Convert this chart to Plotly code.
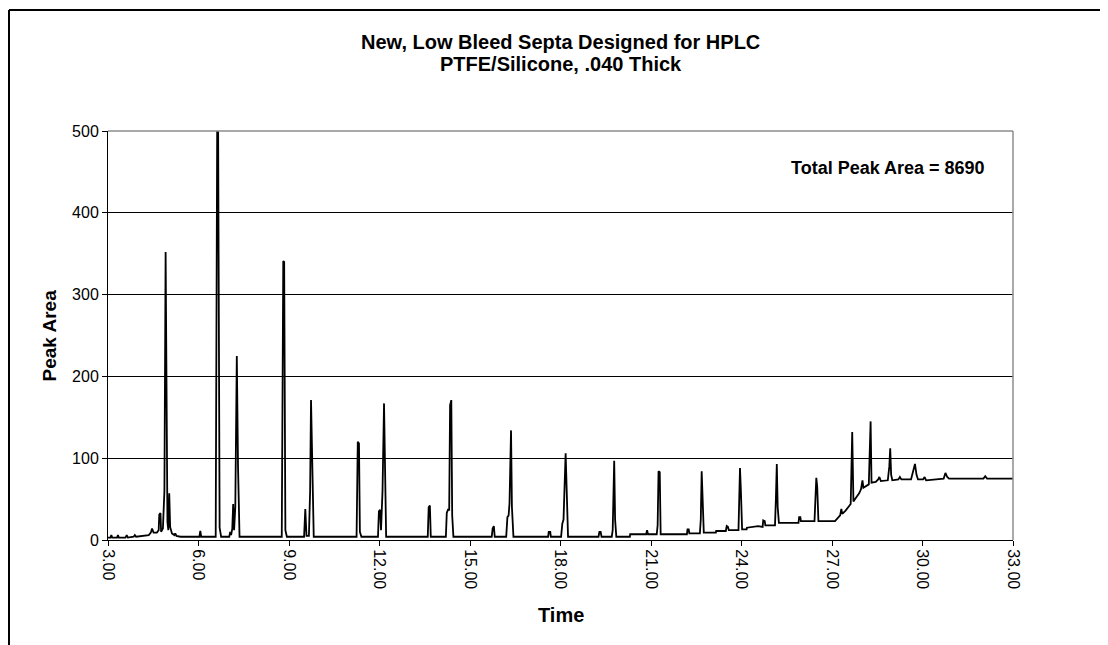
import plotly.graph_objects as go

# chromatogram, split in three runs
time_early = [
    3.00, 3.08, 3.11, 3.14, 3.30, 3.33, 3.36, 3.58, 3.62, 3.66, 3.85, 3.89,
    3.93, 4.15, 4.35, 4.42, 4.46, 4.51, 4.62, 4.68, 4.70, 4.74, 4.76, 4.82,
    4.87, 4.91, 4.94, 4.97, 5.00, 5.03, 5.06, 5.12, 5.20, 5.23, 5.27, 5.40,
    6.03, 6.06, 6.09, 6.57, 6.62, 6.65, 6.70, 6.75, 7.02, 7.05, 7.08, 7.12,
    7.15, 7.18, 7.22, 7.27, 7.31, 7.36, 8.76, 8.81, 8.84, 8.88, 8.93, 9.50,
    9.54, 9.58, 9.66, 9.70, 9.73, 9.78, 9.82, 11.24, 11.28, 11.32, 11.35, 11.40,
]
area_early = [
    3, 3, 6, 3, 3, 6, 3, 3, 6, 3, 4, 6,
    4, 5, 6, 9, 14, 9, 9, 12, 31, 33, 10, 14,
    60, 352, 150, 22, 12, 57, 16, 8, 6, 8, 5, 4,
    4, 11, 4, 4, 510, 510, 15, 4, 4, 10, 6, 14,
    44, 12, 40, 225, 90, 4, 4, 341, 340, 12, 4, 4,
    38, 5, 5, 60, 171, 55, 4, 4, 120, 118, 10, 4,
]

time_mid = [
    11.95, 11.98, 12.02, 12.05, 12.10, 12.15, 12.18, 12.22, 13.60, 13.63,
    13.67, 13.70, 14.20, 14.23, 14.27, 14.31, 14.34, 14.38, 14.41, 14.45,
    15.72, 15.75, 15.79, 15.82, 16.20, 16.24, 16.28, 16.31, 16.36, 16.39,
    16.44, 17.59, 17.61, 17.66, 17.68, 18.02, 18.06, 18.10, 18.17, 18.21,
    18.25, 19.26, 19.29, 19.33, 19.36, 19.70, 19.73, 19.75, 19.78, 19.81,
    19.85, 20.30, 20.31, 20.84, 20.87, 20.90, 21.19, 21.22, 21.25, 21.29,
    21.32, 22.19, 22.21, 22.25, 22.27, 22.62, 22.65, 22.68, 22.71, 22.75,
    23.15, 23.16, 23.48, 23.51, 23.55, 23.58, 23.90, 23.93, 23.95, 23.98,
    24.02, 24.17, 24.18, 24.55, 24.70, 24.72, 24.77, 24.79, 25.11, 25.14,
    25.17, 25.20, 25.24, 25.89, 25.91, 25.95, 25.97, 26.42, 26.45, 26.48,
    26.51, 26.55, 27.10,
]
area_mid = [
    4, 35, 37, 12, 60, 167, 100, 4, 4, 40,
    42, 4, 4, 33, 37, 37, 165, 171, 30, 4,
    4, 14, 17, 4, 4, 28, 30, 45, 134, 40,
    4, 4, 10, 10, 4, 4, 20, 25, 106, 35,
    4, 4, 10, 10, 4, 4, 12, 45, 97, 25,
    4, 4, 7, 7, 12, 7, 7, 18, 84, 83,
    7, 7, 13, 13, 8, 8, 25, 84, 40, 9,
    9, 11, 11, 17, 16, 12, 12, 45, 88, 60,
    13, 13, 15, 17, 16, 24, 23, 18, 18, 50,
    93, 40, 21, 21, 28, 28, 23, 23, 50, 76,
    65, 23, 23,
]

time_late = [
    27.18, 27.27, 27.31, 27.34, 27.45, 27.55, 27.62, 27.67, 27.71, 27.80,
    27.90, 27.96, 28.01, 28.04, 28.12, 28.22, 28.28, 28.31, 28.45, 28.53,
    28.57, 28.62, 28.85, 28.90, 28.93, 28.96, 29.00, 29.20, 29.25, 29.30,
    29.62, 29.70, 29.75, 29.80, 29.85, 30.02, 30.07, 30.12, 30.40, 30.70,
    30.76, 30.82, 30.88, 32.02, 32.08, 32.14, 33.00,
]
area_late = [
    26, 30, 38, 32, 36, 40, 44, 132, 47, 52,
    57, 62, 73, 64, 66, 68, 145, 70, 71, 74,
    77, 72, 73, 90, 112, 80, 73, 74, 77, 74,
    74, 85, 93, 80, 74, 74, 77, 73, 74, 75,
    82, 77, 75, 75, 78, 75, 75,
]

x_ticks = [3, 6, 9, 12, 15, 18, 21, 24, 27, 30, 33]
x_tick_labels = ['3.00', '6.00', '9.00', '12.00', '15.00', '18.00',
                 '21.00', '24.00', '27.00', '30.00', '33.00']
y_ticks = [0, 100, 200, 300, 400, 500]

title_lines = ['New, Low Bleed Septa Designed for HPLC', 'PTFE/Silicone, .040 Thick']
total_area = 8690

times = time_early + time_mid + time_late
areas = area_early + area_mid + area_late

FONT = 'Arial, Liberation Sans, sans-serif'

fig = go.Figure()

fig.add_trace(
    go.Scatter(
        x=times,
        y=areas,
        mode='lines',
        line=dict(color='#000000', width=1.8),
        showlegend=False,
        hoverinfo='x+y'
    )
)

# page has an 8px body margin, so the figure is 8px smaller than the window
fig.update_layout(
    width=1100,
    height=637,
    margin=dict(l=100, r=95, t=123, b=105),
    paper_bgcolor='#FFFFFF',
    plot_bgcolor='#FFFFFF',
    font=dict(family=FONT, size=16, color='#000000'),
    showlegend=False,
    xaxis=dict(
        range=[3, 33],
        tickmode='array',
        tickvals=x_ticks,
        ticktext=x_tick_labels,
        tickangle=90,
        ticks='outside',
        ticklen=5,
        tickcolor='#000000',
        showline=True,
        linecolor='#000000',
        linewidth=1,
        showgrid=False,
        zeroline=False,
        tickfont=dict(size=16)
    ),
    yaxis=dict(
        range=[0, 500],
        tickmode='array',
        tickvals=y_ticks,
        ticks='outside',
        ticklen=5,
        tickcolor='#000000',
        showline=True,
        linecolor='#000000',
        linewidth=1,
        showgrid=True,
        gridcolor='#000000',
        gridwidth=1,
        zeroline=False,
        tickfont=dict(size=16)
    )
)

# plot box: grey on top and right, outer chart frame cut by the page edge
fig.add_shape(type='line', xref='paper', yref='paper', x0=0, x1=1, y0=1, y1=1,
              line=dict(color='#8C8C8C', width=1.5), layer='above')
fig.add_shape(type='line', xref='paper', yref='paper', x0=1, x1=1, y0=0, y1=1,
              line=dict(color='#8C8C8C', width=1.5), layer='above')
fig.add_shape(type='line', xref='paper', yref='paper', x0=-0.1094, x1=1.2, y0=1.2958, y1=1.2958,
              line=dict(color='#000000', width=2))
fig.add_shape(type='line', xref='paper', yref='paper', x0=-0.1094, x1=-0.1094, y0=1.2958, y1=-0.3,
              line=dict(color='#000000', width=2))

fig.add_annotation(text='<b>' + title_lines[0] + '</b>', xref='paper', yref='paper',
                   x=0.5, y=1.2176, xanchor='center', yanchor='middle', showarrow=False,
                   font=dict(size=20))
fig.add_annotation(text='<b>' + title_lines[1] + '</b>', xref='paper', yref='paper',
                   x=0.5, y=1.165, xanchor='center', yanchor='middle', showarrow=False,
                   font=dict(size=20))
fig.add_annotation(text='<b>Total Peak Area = ' + str(total_area) + '</b>', xref='paper', yref='paper',
                   x=0.9713, y=0.9095, xanchor='right', yanchor='middle', showarrow=False,
                   font=dict(size=18))
fig.add_annotation(text='<b>Time</b>', xref='paper', yref='paper',
                   x=0.5, y=-0.1834, xanchor='center', yanchor='middle', showarrow=False,
                   font=dict(size=20))
fig.add_annotation(text='<b>Peak Area</b>', xref='paper', yref='paper',
                   x=-0.0641, y=0.5, xanchor='center', yanchor='middle', showarrow=False,
                   textangle=-90, font=dict(size=19))

fig.write_html('out.html')
